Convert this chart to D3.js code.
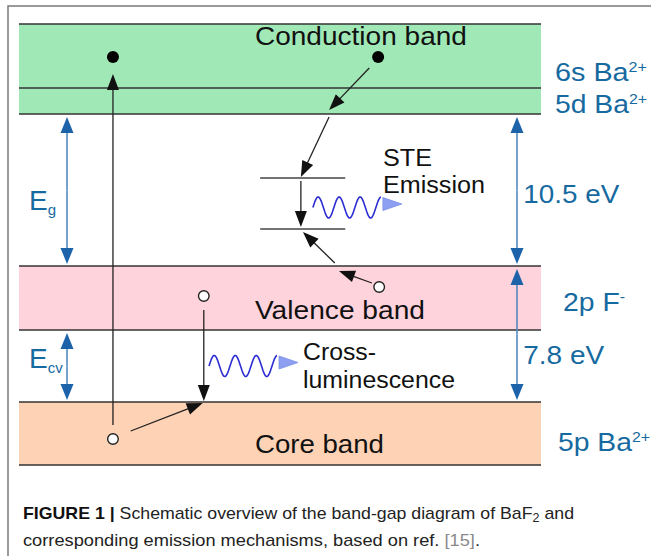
<!DOCTYPE html>
<html>
<head>
<meta charset="utf-8">
<script src="https://cdn.jsdelivr.net/npm/d3@7"></script>
<style>
  html, body { margin: 0; padding: 0; background: #fff; }
  svg { display: block; }
</style>
</head>
<body>
<script>
// ---- Band structure of BaF2 (diagram level units, 0 = bottom of the core band) ----
const bandNames   = ["Core band", "Valence band", "Conduction band"];
const bandBottoms = [0, 135, 351];
const bandTops    = [63, 199, 441];
const bandFills   = ["#fdd2b5", "#ffd3dc", "#a0e9b6"];
const conductionSplit = 377;            // 5d / 6s sub-band boundary

// Orbital origin of each band (right-hand labels)
const orbitalMain  = ["6s Ba", "5d Ba", "2p F", "5p Ba"];
const orbitalSup   = ["2+", "2+", "-", "2+"];
const orbitalLevel = [384, 352, 154, 14];

// Energy gaps: left arrows (E_g, E_cv) and right arrows (10.5 eV, 7.8 eV)
const gapSymbols  = [["E", "g"], ["E", "cv"]];
const leftGapFrom = [199, 63];
const leftGapTo   = [351, 135];
const gapLabels   = ["10.5 eV", "7.8 eV"];
const rightGapFrom = [199, 63];
const rightGapTo   = [351, 199];

// Charge carriers: electrons (filled) and holes (open), position u (0-100 across the band), level
const electronU   = [18.0, 68.8];
const electronLvl = [408, 408];
const holeU       = [18.0, 35.4, 69.0];
const holeLvl     = [26, 169, 178];

// Self-trapped exciton levels
const steLevels = [287, 236];
const steSpan   = [46.2, 62.5];

// Carrier transitions [u1, lvl1, u2, lvl2]
const transitions = [
  [18.0, 40, 18.0, 391],     // core hole -> conduction band (excitation)
  [67.1, 397, 59.4, 355],    // hot electron thermalising
  [59.4, 348, 54.0, 288],    // electron trapped at STE
  [54.0, 284, 54.0, 238],    // STE recombination
  [60.5, 202, 54.4, 233],    // hole trapped at STE
  [67.6, 182, 61.3, 194],    // valence hole relaxation
  [35.4, 155, 35.4, 64],     // valence electron fills core hole
  [21.4, 34, 35.2, 62]       // core hole migration
];

// Emitted photons: start u, centre level, caption lines
const photonU     = [56.3, 36.4];
const photonLvl   = [257.5, 99];
const photonText  = [["STE", "Emission"], ["Cross-", "luminescence"]];

const W = 651, H = 556;
const svg = d3.select("body").append("svg").attr("width", W).attr("height", H);

const x = d3.scaleLinear().domain([0, 100]).range([19, 541]);
const y = d3.scaleLinear().domain([0, 441]).range([465, 24]);

const FONT = "'Liberation Sans', Arial, Helvetica, sans-serif";
const BLUE_TEXT = "#176a9f";
const BLUE_HEAD = "#1d63a9";
const BLUE_SHAFT = "#5289c0";

// Figure frame
svg.append("path").attr("d", `M8,${H} L8,6 L${W},6`)
  .attr("fill", "none").attr("stroke", "#7a7a7a").attr("stroke-width", 1.5);

// Bands
const bands = svg.append("g");
bandNames.forEach((n, i) => {
  bands.append("rect")
    .attr("x", x(0)).attr("width", x(100) - x(0))
    .attr("y", y(bandTops[i])).attr("height", y(bandBottoms[i]) - y(bandTops[i]))
    .attr("fill", bandFills[i]);
});
const edges = bandTops.concat(bandBottoms, [conductionSplit]);
bands.selectAll("line.edge").data(edges).join("line")
  .attr("x1", x(0)).attr("x2", x(100))
  .attr("y1", d => y(d)).attr("y2", d => y(d))
  .attr("stroke", "#333").attr("stroke-width", 1.6);

// Band names
const bandTextLvl = [12, 146, 420];
const bandTextLen = [129, 170, 212];
bandNames.forEach((n, i) => {
  svg.append("text").attr("x", x(45.2)).attr("y", y(bandTextLvl[i]))
    .attr("font-family", FONT).attr("font-size", 26).attr("fill", "#111")
    .attr("textLength", bandTextLen[i]).attr("lengthAdjust", "spacingAndGlyphs")
    .text(n);
});

// Arrow helper: filled triangular head at (x2, y2)
function arrow(g, x1, y1, x2, y2, o) {
  const len = o.len || 16, hw = (o.w || 12) / 2;
  const dx = x2 - x1, dy = y2 - y1, L = Math.hypot(dx, dy);
  const ux = dx / L, uy = dy / L;
  const bx = x2 - ux * len, by = y2 - uy * len;
  g.append("line").attr("x1", x1).attr("y1", y1)
    .attr("x2", bx + ux * 2).attr("y2", by + uy * 2)
    .attr("stroke", o.line || o.color).attr("stroke-width", o.sw || 1.4);
  g.append("path")
    .attr("d", `M${x2},${y2} L${bx - uy * hw},${by + ux * hw} L${bx + uy * hw},${by - ux * hw} Z`)
    .attr("fill", o.color);
}

// Energy-gap double arrows
const gapG = svg.append("g");
function doubleArrow(u, from, to) {
  const y1 = y(to) + 3, y2 = y(from) - 2;
  const mid = (y1 + y2) / 2;
  const o = { color: BLUE_HEAD, line: BLUE_SHAFT, sw: 1.6, len: 16, w: 13 };
  arrow(gapG, x(u), mid, x(u), y1, o);
  arrow(gapG, x(u), mid, x(u), y2, o);
}
leftGapFrom.forEach((f, i) => doubleArrow(9.2, f, leftGapTo[i]));
rightGapFrom.forEach((f, i) => doubleArrow(95.4, f, rightGapTo[i]));

// Gap values (right)
const gapTextLvl = [262, 101];
const gapTextLen = [96, 81];
gapLabels.forEach((t, i) => {
  svg.append("text").attr("x", x(96.6)).attr("y", y(gapTextLvl[i]))
    .attr("font-family", FONT).attr("font-size", 26).attr("fill", BLUE_TEXT)
    .attr("textLength", gapTextLen[i]).attr("lengthAdjust", "spacingAndGlyphs")
    .text(t);
});

// Gap symbols (left)
const symLvl = [255, 97];
gapSymbols.forEach((s, i) => {
  const t = svg.append("text").attr("x", 29).attr("y", y(symLvl[i]))
    .attr("font-family", FONT).attr("fill", BLUE_TEXT);
  t.append("tspan").attr("font-size", 28).text(s[0]);
  t.append("tspan").attr("font-size", 15).attr("dy", 5).text(s[1]);
});

// Orbital labels (right)
const orbX = [555, 555, 563, 558];
const orbLen = [92, 92, 62, 92];
orbitalMain.forEach((m, i) => {
  const t = svg.append("text").attr("x", orbX[i]).attr("y", y(orbitalLevel[i]))
    .attr("font-family", FONT).attr("fill", BLUE_TEXT)
    .attr("textLength", orbLen[i]).attr("lengthAdjust", "spacingAndGlyphs");
  t.append("tspan").attr("font-size", 25).text(m);
  t.append("tspan").attr("font-size", 14).attr("dy", -9).text(orbitalSup[i]);
});

// STE levels
svg.selectAll("line.ste").data(steLevels).join("line")
  .attr("x1", x(steSpan[0])).attr("x2", x(steSpan[1]))
  .attr("y1", d => y(d)).attr("y2", d => y(d))
  .attr("stroke", "#444").attr("stroke-width", 1.4);

// Transitions
const trG = svg.append("g");
transitions.forEach(t => {
  arrow(trG, x(t[0]), y(t[1]), x(t[2]), y(t[3]), { color: "#111", line: "#222", sw: 1.3, len: 16, w: 12 });
});

// Electrons and holes
svg.selectAll("circle.e").data(electronU).join("circle")
  .attr("cx", d => x(d)).attr("cy", (d, i) => y(electronLvl[i])).attr("r", 6)
  .attr("fill", "#000");
svg.selectAll("circle.h").data(holeU).join("circle")
  .attr("cx", d => x(d)).attr("cy", (d, i) => y(holeLvl[i])).attr("r", 5.3)
  .attr("fill", "#fff").attr("stroke", "#222").attr("stroke-width", 1.4);

// Photons: wavy line with a light blue triangular head
const waveLen = 68, period = 21, amp = 10.5;
photonU.forEach((u, i) => {
  const x0 = x(u), yc = y(photonLvl[i]);
  const pts = d3.range(0, waveLen + 0.01, 0.5).map(s => [x0 + s, yc - amp * Math.sin(2 * Math.PI * s / period)]);
  svg.append("path").attr("d", d3.line()(pts))
    .attr("fill", "none").attr("stroke", "#2d2ed2").attr("stroke-width", 1.6);
  const hx = x0 + waveLen + 2, hy = yc - amp + 7;
  svg.append("path").attr("d", `M${hx},${hy - 6.5} L${hx + 19},${hy} L${hx},${hy + 6.5} Z`)
    .attr("fill", "#8c9ff0").attr("stroke", "#7b8fe6").attr("stroke-width", 0.8);
});

// Photon captions
const capX = [383, 303];
const capLvl = [[299, 272], [105, 77]];
const capLen = [[49, 102], [73, 152]];
photonText.forEach((lines, i) => {
  lines.forEach((l, j) => {
    svg.append("text").attr("x", capX[i]).attr("y", y(capLvl[i][j]))
      .attr("font-family", FONT).attr("font-size", 23).attr("fill", "#111")
      .attr("textLength", capLen[i][j]).attr("lengthAdjust", "spacingAndGlyphs")
      .text(l);
  });
});

// Figure caption
const cap1 = svg.append("text").attr("x", 23).attr("y", 519)
  .attr("font-family", FONT).attr("font-size", 17).attr("fill", "#222")
  .attr("textLength", 551).attr("lengthAdjust", "spacingAndGlyphs");
cap1.append("tspan").attr("font-weight", "bold").attr("fill", "#111").text("FIGURE 1 | ");
cap1.append("tspan").text("Schematic overview of the band-gap diagram of BaF");
cap1.append("tspan").attr("font-size", 12).attr("dy", 3).text("2");
cap1.append("tspan").attr("dy", -3).text(" and");

const cap2 = svg.append("text").attr("x", 23).attr("y", 546)
  .attr("font-family", FONT).attr("font-size", 17).attr("fill", "#222")
  .attr("textLength", 457).attr("lengthAdjust", "spacingAndGlyphs");
cap2.append("tspan").text("corresponding emission mechanisms, based on ref. ");
cap2.append("tspan").attr("fill", "#8a8a8a").text("[15]");
cap2.append("tspan").text(".");
</script>
</body>
</html>
